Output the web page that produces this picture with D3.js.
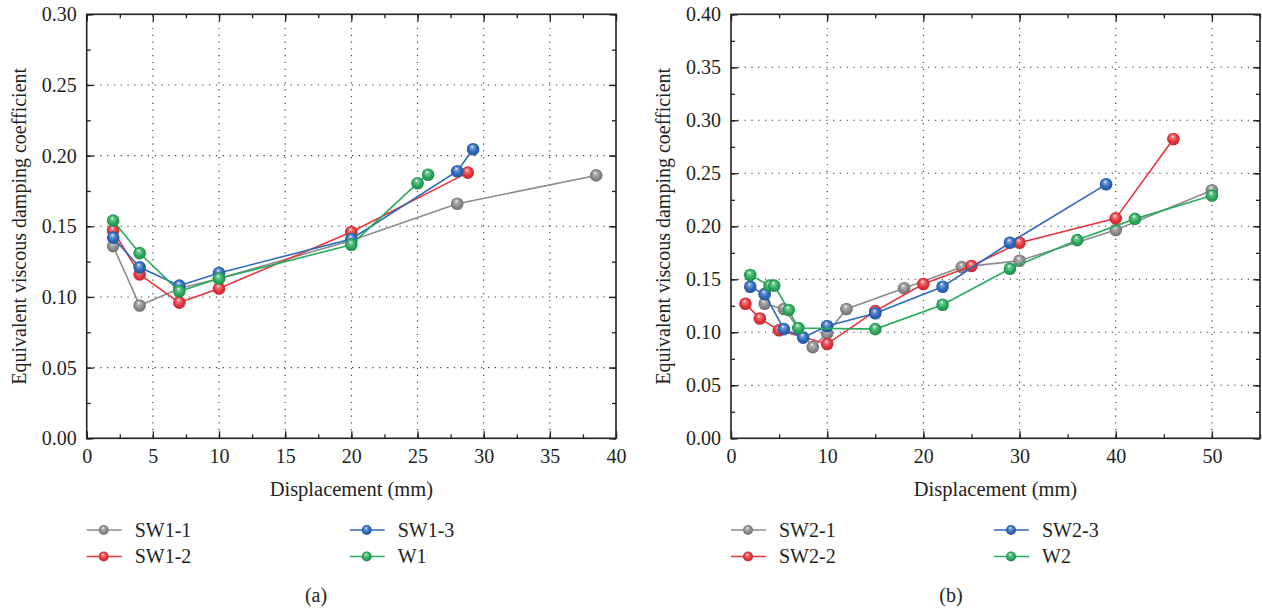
<!DOCTYPE html>
<html>
<head>
<meta charset="utf-8">
<script src="https://cdn.jsdelivr.net/npm/d3@7"></script>
<style>
  body { margin: 0; background: #fff; }
  text { font-family: "Liberation Serif", "DejaVu Serif", serif; fill: #231f20; }
</style>
</head>
<body>
<div id="chart"></div>
<script>
// panel (a)
const sw11X = [2, 4, 7, 10, 20, 28, 38.5];
const sw11Y = [0.136, 0.094, 0.106, 0.113, 0.140, 0.166, 0.186];
const sw12X = [2, 4, 7, 10, 20, 28.8];
const sw12Y = [0.147, 0.116, 0.096, 0.106, 0.146, 0.188];
const sw13X = [2, 4, 7, 10, 20, 28, 29.2];
const sw13Y = [0.142, 0.121, 0.108, 0.117, 0.141, 0.189, 0.2045];
const w1X = [2, 4, 7, 10, 20, 25, 25.8];
const w1Y = [0.154, 0.131, 0.104, 0.113, 0.137, 0.1805, 0.1865];

// panel (b)
const sw21X = [3.5, 5.5, 8.5, 10, 12, 18, 24, 30, 40, 50];
const sw21Y = [0.127, 0.122, 0.086, 0.099, 0.122, 0.1415, 0.1615, 0.1675, 0.1965, 0.234];
const sw22X = [1.5, 3, 5, 10, 15, 20, 25, 30, 40, 46];
const sw22Y = [0.127, 0.113, 0.102, 0.089, 0.120, 0.1455, 0.1625, 0.1845, 0.2075, 0.2824];
const sw23X = [2, 3.5, 5.5, 7.5, 10, 15, 22, 29, 39];
const sw23Y = [0.143, 0.136, 0.103, 0.095, 0.106, 0.118, 0.143, 0.1845, 0.2396];
const w2X = [2, 4, 4.5, 6, 7, 15, 22, 29, 36, 42, 50];
const w2Y = [0.154, 0.144, 0.144, 0.121, 0.104, 0.103, 0.126, 0.160, 0.187, 0.207, 0.229];

const xTicksA = [0, 5, 10, 15, 20, 25, 30, 35, 40];
const yTicksA = [0, 0.05, 0.10, 0.15, 0.20, 0.25, 0.30];
const xTicksB = [0, 10, 20, 30, 40, 50];
const yTicksB = [0, 0.05, 0.10, 0.15, 0.20, 0.25, 0.30, 0.35, 0.40];

const namesA = ["SW1-1", "SW1-2", "SW1-3", "W1"];
const namesB = ["SW2-1", "SW2-2", "SW2-3", "W2"];

const colors = ["#8b8b8d", "#e8343b", "#2e69bd", "#2aaa5c"];
const colorKeys = ["gray", "red", "blue", "green"];

const svg = d3.select("#chart").append("svg")
    .attr("width", 1262)
    .attr("height", 613);

// sphere-like marker gradients
const defs = svg.append("defs");
colors.forEach((c, i) => {
    const g = defs.append("radialGradient")
        .attr("id", "ball-" + colorKeys[i])
        .attr("cx", "50%").attr("cy", "50%").attr("r", "55%")
        .attr("fx", "42%").attr("fy", "28%");
    g.append("stop").attr("offset", "0%").attr("stop-color", "#ffffff");
    g.append("stop").attr("offset", "22%").attr("stop-color", d3.interpolateRgb(c, "#fff")(0.35));
    g.append("stop").attr("offset", "60%").attr("stop-color", c);
    g.append("stop").attr("offset", "100%").attr("stop-color", d3.color(c).darker(0.7));
});

function drawPanel(p) {
    const x = d3.scaleLinear().domain(p.xDomain).range([p.left, p.right]);
    const y = d3.scaleLinear().domain(p.yDomain).range([p.bottom, p.top]);
    const g = svg.append("g");

    // dotted grid
    g.append("g").selectAll("line").data(p.xTicks.filter(d => d > p.xDomain[0] && d < p.xDomain[1]))
        .join("line")
        .attr("x1", d => x(d)).attr("x2", d => x(d))
        .attr("y1", p.top).attr("y2", p.bottom)
        .attr("stroke", "#333").attr("stroke-width", 1.1)
        .attr("stroke-dasharray", "1.2,5.6");
    g.append("g").selectAll("line").data(p.yTicks.filter(d => d > p.yDomain[0] && d < p.yDomain[1]))
        .join("line")
        .attr("x1", p.left).attr("x2", p.right)
        .attr("y1", d => y(d)).attr("y2", d => y(d))
        .attr("stroke", "#333").attr("stroke-width", 1.1)
        .attr("stroke-dasharray", "1.2,5.6");

    // axes with inward ticks on all four sides
    const xMinor = d3.range(p.xDomain[0], p.xDomain[1] + 0.001, p.xStep / 2);
    const yMinor = d3.range(p.yDomain[0], p.yDomain[1] + 0.0001, 0.025);
    const axisStyle = sel => {
        sel.attr("font-family", null).attr("font-size", null);
        sel.select(".domain").remove();
        sel.selectAll("line").attr("stroke", "#231f20").attr("stroke-width", 1.3);
        sel.selectAll("text").attr("font-size", 20).attr("fill", "#231f20");
    };
    g.append("g").attr("transform", `translate(0,${p.bottom})`)
        .call(d3.axisBottom(x).tickValues(xMinor).tickSize(-4).tickFormat(""))
        .call(axisStyle);
    g.append("g").attr("transform", `translate(0,${p.bottom})`)
        .call(d3.axisBottom(x).tickValues(p.xTicks).tickSizeInner(-7).tickPadding(11).tickFormat(d3.format("d")))
        .call(axisStyle);
    g.append("g").attr("transform", `translate(0,${p.top})`)
        .call(d3.axisTop(x).tickValues(xMinor).tickSize(-4).tickFormat(""))
        .call(axisStyle);
    g.append("g").attr("transform", `translate(0,${p.top})`)
        .call(d3.axisTop(x).tickValues(p.xTicks).tickSize(-7).tickFormat(""))
        .call(axisStyle);
    g.append("g").attr("transform", `translate(${p.left},0)`)
        .call(d3.axisLeft(y).tickValues(yMinor).tickSize(-4).tickFormat(""))
        .call(axisStyle);
    g.append("g").attr("transform", `translate(${p.left},0)`)
        .call(d3.axisLeft(y).tickValues(p.yTicks).tickSizeInner(-7).tickPadding(10).tickFormat(d3.format(".2f")))
        .call(axisStyle);
    g.append("g").attr("transform", `translate(${p.right},0)`)
        .call(d3.axisRight(y).tickValues(yMinor).tickSize(-4).tickFormat(""))
        .call(axisStyle);
    g.append("g").attr("transform", `translate(${p.right},0)`)
        .call(d3.axisRight(y).tickValues(p.yTicks).tickSize(-7).tickFormat(""))
        .call(axisStyle);

    g.append("rect")
        .attr("x", p.left).attr("y", p.top)
        .attr("width", p.right - p.left).attr("height", p.bottom - p.top)
        .attr("fill", "none").attr("stroke", "#231f20").attr("stroke-width", 1.6);

    // axis titles
    g.append("text")
        .attr("x", (p.left + p.right) / 2).attr("y", 496)
        .attr("text-anchor", "middle").attr("font-size", 20.5)
        .text("Displacement (mm)");
    g.append("text")
        .attr("transform", `translate(${p.left - 61},${(p.top + p.bottom) / 2}) rotate(-90)`)
        .attr("text-anchor", "middle").attr("font-size", 20)
        .text("Equivalent viscous damping coefficient");

    // series
    const line = d3.line().x(d => x(d[0])).y(d => y(d[1]));
    p.series.forEach((s, i) => {
        const pts = d3.zip(s.xs, s.ys);
        g.append("path").datum(pts)
            .attr("fill", "none")
            .attr("stroke", colors[i])
            .attr("stroke-width", 1.6)
            .attr("d", line);
        g.append("g").selectAll("circle").data(pts).join("circle")
            .attr("cx", d => x(d[0])).attr("cy", d => y(d[1]))
            .attr("r", 6.3)
            .attr("fill", `url(#ball-${colorKeys[i]})`);
    });

    // legend
    const lg = g.append("g");
    p.names.forEach((name, i) => {
        const col = i < 2 ? 0 : 1;
        const row = i % 2;
        const lx = p.left + col * 263;
        const ly = 530 + row * 26.5;
        lg.append("line")
            .attr("x1", lx).attr("x2", lx + 35)
            .attr("y1", ly).attr("y2", ly)
            .attr("stroke", colors[i]).attr("stroke-width", 1.6);
        lg.append("circle")
            .attr("cx", lx + 17).attr("cy", ly).attr("r", 5)
            .attr("fill", `url(#ball-${colorKeys[i]})`);
        lg.append("text")
            .attr("x", lx + 48).attr("y", ly + 6.5)
            .attr("font-size", 20)
            .text(name);
    });

    g.append("text")
        .attr("x", p.labelX).attr("y", 602)
        .attr("text-anchor", "middle").attr("font-size", 20)
        .text(p.label);
}

drawPanel({
    left: 86.7, right: 616, top: 14.3, bottom: 438.3,
    xDomain: [0, 40], yDomain: [0, 0.30], xStep: 5,
    xTicks: xTicksA, yTicks: yTicksA, names: namesA,
    label: "(a)", labelX: 316,
    series: [
        { xs: sw11X, ys: sw11Y },
        { xs: sw12X, ys: sw12Y },
        { xs: sw13X, ys: sw13Y },
        { xs: w1X, ys: w1Y }
    ]
});

drawPanel({
    left: 731, right: 1260, top: 14.3, bottom: 438.3,
    xDomain: [0, 55], yDomain: [0, 0.40], xStep: 10,
    xTicks: xTicksB, yTicks: yTicksB, names: namesB,
    label: "(b)", labelX: 951,
    series: [
        { xs: sw21X, ys: sw21Y },
        { xs: sw22X, ys: sw22Y },
        { xs: sw23X, ys: sw23Y },
        { xs: w2X, ys: w2Y }
    ]
});
</script>
</body>
</html>
